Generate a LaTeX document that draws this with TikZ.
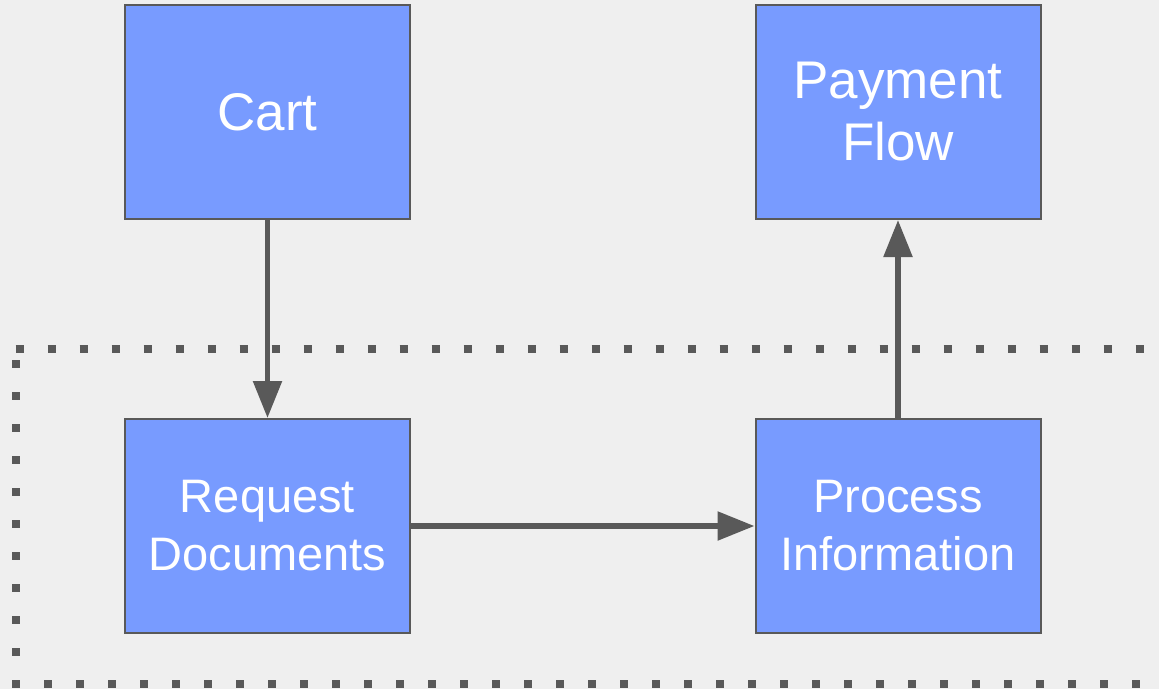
\documentclass[tikz,border=0pt]{standalone}
\usepackage{fontspec}
\setmainfont{Liberation Sans}
\usetikzlibrary{arrows.meta}
\definecolor{boxblue}{RGB}{120,155,255}
\definecolor{edgegray}{RGB}{89,89,89}
\definecolor{pagegray}{RGB}{239,239,239}
\begin{document}
\begin{tikzpicture}[x=1pt,y=-1pt,
    box/.style={draw=edgegray,line width=2pt,fill=boxblue,minimum width=285pt,minimum height=214pt,
        inner sep=0pt,text=white,align=center,font=\fontsize{47}{58}\selectfont},
    bigbox/.style={box,font=\fontsize{53}{62}\selectfont},
    flow/.style={draw=edgegray,line width=5.5pt,-{Triangle[width=28pt,length=37pt]}},
    frame/.style={draw=edgegray,line width=8pt,line cap=butt,dash pattern=on 8pt off 24pt}]
    \fill[pagegray] (0,0) rectangle (1159,689);
    \useasboundingbox (0,0) rectangle (1159,689);
    % dotted frame round the lower row
    \coordinate (tl) at (15.5,349);
    \coordinate (tr) at (1175,349);
    \coordinate (lt) at (15.5,360);
    \coordinate (lb) at (15.5,688);
    \coordinate (bl) at (12,684);
    \coordinate (br) at (1175,684);
    \draw[frame] (tl)--(tr);
    \draw[frame] (lt)--(lb);
    \draw[frame] (bl)--(br);
    % boxes
    \node[bigbox] (cart) at (267.5,112) {Cart};
    \node[bigbox] (payment) at (898,112) {Payment\\Flow};
    \node[box] (request) at (267.5,526) {Request\\Documents};
    \node[box] (process) at (898,526) {Process\\Information};
    % arrows
    \draw[flow] (cart)--(request);
    \draw[flow] (request)--(process);
    \draw[flow] (process)--(payment);
\end{tikzpicture}
\end{document}
